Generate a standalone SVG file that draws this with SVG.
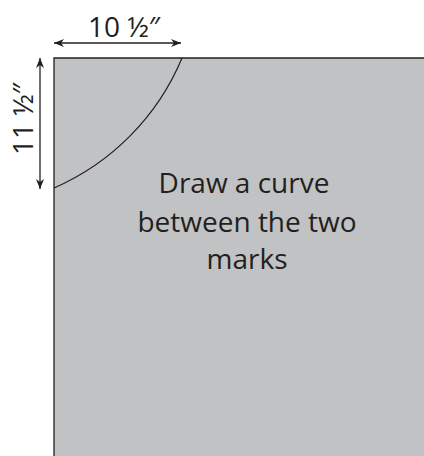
<svg xmlns="http://www.w3.org/2000/svg" width="424" height="456" viewBox="0 0 424 456">
<style>
.lbl{font-family:"Open Sans","Liberation Sans",sans-serif;fill:#231f20;text-anchor:middle}
.dim{stroke:#231f20;stroke-width:1.3;fill:none}
</style>
<defs>
<marker id="ah" viewBox="0 0 10 8" refX="10" refY="4" markerWidth="10" markerHeight="8" markerUnits="userSpaceOnUse" orient="auto-start-reverse">
<path d="M0,0 L10,4 L0,8 L3,4 Z" fill="#231f20"/>
</marker>
</defs>
<g id="sheet">
<rect x="54" y="58" width="370" height="398" fill="#c1c2c4"/>
<path d="M54,456 V58 H424" fill="none" stroke="#231f20" stroke-width="1.3"/>
<path d="M182,58 A244,244 0 0 1 54,188" fill="none" stroke="#231f20" stroke-width="1.2"/>
<text class="lbl" x="244" y="193" font-size="28">Draw a curve</text>
<text class="lbl" x="247" y="232" font-size="28">between the two</text>
<text class="lbl" x="247" y="269" font-size="28">marks</text>
</g>
<g id="connectors">
<line class="dim" x1="54" y1="43" x2="181" y2="43" marker-start="url(#ah)" marker-end="url(#ah)"/>
<line class="dim" x1="40" y1="58" x2="40" y2="189" marker-start="url(#ah)" marker-end="url(#ah)"/>
</g>
<g id="dim-labels">
<text class="lbl" x="124" y="37" font-size="28">10 ½″</text>
<text class="lbl" transform="translate(33,119) rotate(-90)" font-size="28">11 ½″</text>
</g>
</svg>
